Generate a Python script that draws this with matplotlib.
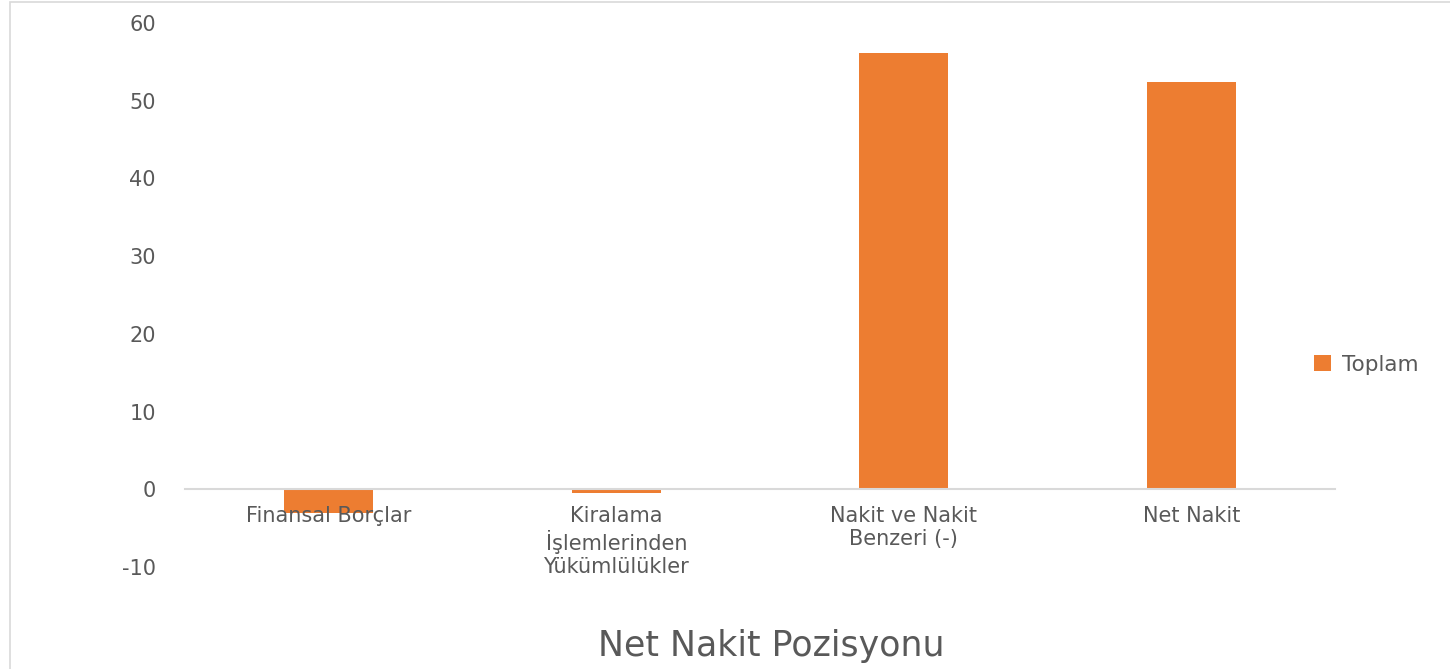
import matplotlib.pyplot as plt
from matplotlib.patches import Rectangle

# data
categories = ['Finansal Borçlar', 'Kiralama\nİşlemlerinden\nYükümlülükler',
              'Nakit ve Nakit\nBenzeri (-)', 'Net Nakit']
values = [-3.0, -0.5, 56.2, 52.4]
series_name = 'Toplam'
yticks = [-10, 0, 10, 20, 30, 40, 50, 60]

bar_color = '#ED7D31'
text_color = '#595959'

plt.rcParams['font.family'] = ['DejaVu Sans']
plt.rcParams['axes.unicode_minus'] = False

fig = plt.figure(figsize=(14.5, 6.69), dpi=100)
ax = fig.add_axes([0.1276, 0.1525, 0.7931, 0.8131])

x = range(len(categories))
ax.bar(x, values, width=0.31, color=bar_color, label=series_name)

ax.set_xlim(-0.5, len(categories) - 0.5)
ax.set_ylim(-10, 60)
ax.set_yticks(yticks)
ax.set_xticks(list(x))
ax.tick_params(axis='y', length=0, labelsize=15, labelcolor=text_color, pad=21)
ax.tick_params(axis='x', length=0, pad=12, labelsize=15, labelcolor=text_color)
ax.set_xticklabels(categories, linespacing=1.2)

for s in ['top', 'right', 'left']:
    ax.spines[s].set_visible(False)
ax.spines['bottom'].set_position(('data', 0))
ax.spines['bottom'].set_color('#d9d9d9')
ax.spines['bottom'].set_linewidth(1.5)

fig.text(0.532, 0.035, 'Net Nakit Pozisyonu', ha='center', va='center',
         fontsize=25, color=text_color)

leg = fig.legend(loc='center left', bbox_to_anchor=(0.893, 0.455), frameon=False,
                 fontsize=15.5, handlelength=0.8, handleheight=0.8, handletextpad=0.5)
for t in leg.get_texts():
    t.set_color(text_color)

fig.patches.append(Rectangle((0.007, -0.01), 1.0, 1.007, transform=fig.transFigure,
                             fill=False, edgecolor='#d9d9d9', linewidth=1.2))

fig.savefig('out.png', dpi=100)
